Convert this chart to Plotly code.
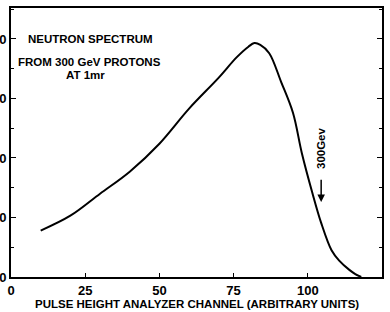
import plotly.graph_objects as go

channel = [10, 20, 30, 40, 50, 60, 70, 76, 80, 82, 84, 87, 91, 95, 98, 101.5, 104.5, 108, 110.5, 114, 116, 118]
counts = [78, 103, 140, 177, 224, 283, 335, 369, 387, 393, 390, 376, 328, 276, 208, 142, 91, 45, 28, 12, 5, 0]

x_ticks = [0, 25, 50, 75, 100, 125]
y_ticks = [0, 100, 200, 300, 400]

FONT = "Liberation Sans, Arial, sans-serif"

fig = go.Figure()
fig.add_trace(go.Scatter(x=channel, y=counts, mode="lines",
                         line=dict(color="black", width=2, shape="spline", smoothing=1.0),
                         showlegend=False, hoverinfo="skip"))

fig.update_layout(
    width=390, height=312,
    margin=dict(l=11, r=8, t=8, b=35),
    paper_bgcolor="white", plot_bgcolor="white",
    font=dict(family=FONT, color="black"),
    xaxis=dict(range=[0, 125], tickvals=x_ticks, ticks="inside", ticklen=4,
               tickwidth=1, tickcolor="black", showline=True, linecolor="black",
               linewidth=2, mirror=True, showgrid=False, zeroline=False, automargin=False,
               tickfont=dict(family=FONT, size=13, color="black", weight="bold")),
    yaxis=dict(range=[0, 452], tickvals=y_ticks, ticks="inside", ticklen=5,
               tickwidth=1, tickcolor="black", showline=True, linecolor="black",
               linewidth=2, mirror="ticks", showgrid=False, zeroline=False, automargin=False,
               minor=dict(dtick=50, ticks="inside", ticklen=3, tickcolor="black"),
               tickfont=dict(family=FONT, size=13, color="black", weight="bold")),
)

ann_font = dict(family=FONT, size=11.5, color="black", weight="bold")
fig.add_annotation(x=0.5, y=-0.1, xref="paper", yref="paper", yanchor="middle",
                   text="PULSE HEIGHT ANALYZER CHANNEL (ARBITRARY UNITS)",
                   showarrow=False, font=ann_font)
fig.add_annotation(x=26.9, y=400, text="NEUTRON SPECTRUM", showarrow=False, font=ann_font)
fig.add_annotation(x=26.5, y=361, text="FROM 300 GeV PROTONS", showarrow=False, font=ann_font)
fig.add_annotation(x=25.2, y=339, text="AT 1mr", showarrow=False, font=ann_font)
fig.add_annotation(x=104.5, y=217, text="300Gev", textangle=-90, showarrow=False,
                   font=dict(family=FONT, size=11.5, color="black", weight="bold"))
fig.add_annotation(x=104.5, y=126, ax=104.5, ay=166, xref="x", yref="y", axref="x", ayref="y",
                   text="", showarrow=True, arrowhead=2, arrowsize=1, arrowwidth=1.5,
                   arrowcolor="black")

fig.write_html("out.html", config={"displayModeBar": False},
               post_script="document.body.style.margin='0';")
